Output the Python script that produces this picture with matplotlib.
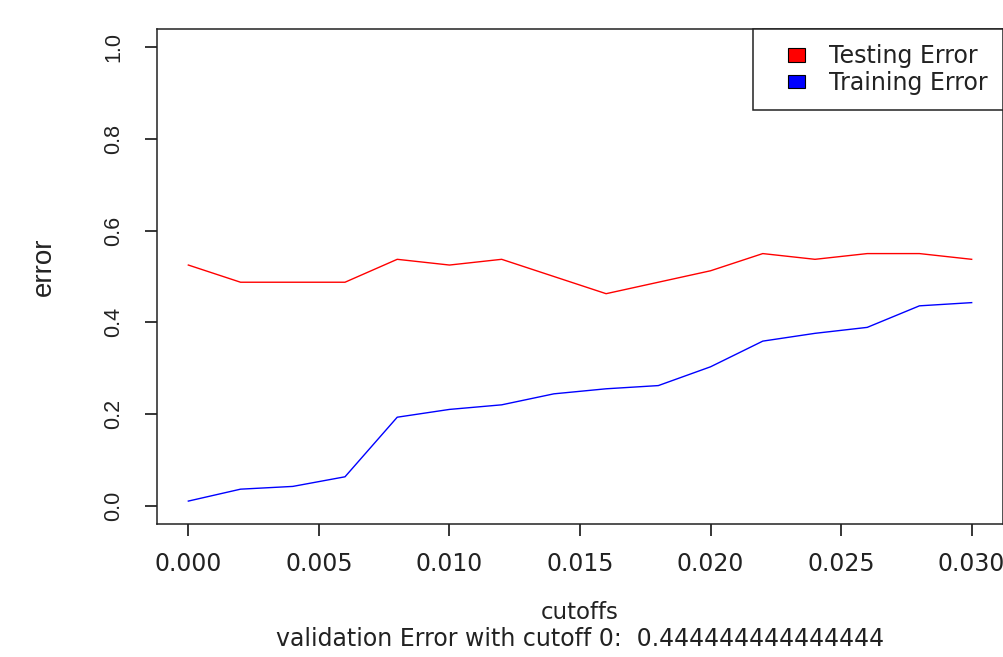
import matplotlib
matplotlib.use('Agg')
import matplotlib.pyplot as plt
from matplotlib.patches import Patch, Rectangle
from matplotlib.legend_handler import HandlerPatch

# values
cutoffs = [0.000, 0.002, 0.004, 0.006, 0.008, 0.010, 0.012, 0.014,
           0.016, 0.018, 0.020, 0.022, 0.024, 0.026, 0.028, 0.030]
testing_error = [0.525, 0.4875, 0.4875, 0.4875, 0.5375, 0.525, 0.5375, 0.500,
                 0.4625, 0.4875, 0.5125, 0.550, 0.5375, 0.550, 0.550, 0.5375]
training_error = [0.010, 0.036, 0.042, 0.063, 0.193, 0.210, 0.220, 0.244,
                  0.255, 0.262, 0.303, 0.359, 0.376, 0.389, 0.436, 0.443]
validation_error = 4 / 9
x_ticks = [0.000, 0.005, 0.010, 0.015, 0.020, 0.025, 0.030]
y_ticks = [0.0, 0.2, 0.4, 0.6, 0.8, 1.0]

W, H = 1004, 657
fig = plt.figure(figsize=(W / 100, H / 100), dpi=100)
ax = fig.add_axes([157 / W, 1 - 524 / H, (1003 - 157) / W, (524 - 29) / H])

ax.plot(cutoffs, testing_error, color='red', lw=1.0)
ax.plot(cutoffs, training_error, color='blue', lw=1.0)

ax.set_xlim(-0.0012, 0.0312)
ax.set_ylim(-0.04, 1.04)

ax.set_xticks(x_ticks)
ax.set_xticklabels(['{:.3f}'.format(v) for v in x_ticks],
                   fontsize=17, family='DejaVu Sans', color='#222222')
ax.set_yticks(y_ticks)
ax.set_yticklabels(['{:.1f}'.format(v) for v in y_ticks],
                   fontsize=15.5, family='Liberation Sans', color='#222222',
                   rotation=90, va='center')
ax.tick_params(axis='x', direction='out', length=8.6, width=1.1, pad=11.5)
ax.tick_params(axis='y', direction='out', length=8.6, width=1.1, pad=15)
for sp in ax.spines.values():
    sp.set_linewidth(1.1)
    sp.set_color('#222222')

# axis titles, placed like R does it
fig.text(44 / W, 1 - 267 / H, 'error', rotation=90, ha='center', va='center',
         fontsize=20, family='Liberation Sans', color='#222222')
fig.text(580 / W, 1 - 619 / H, 'cutoffs', ha='center', va='baseline',
         fontsize=16.5, family='DejaVu Sans', color='#222222')
fig.text(580 / W, 1 - 646 / H,
         'validation Error with cutoff 0:  {:.15g}'.format(validation_error),
         ha='center', va='baseline', fontsize=17, family='DejaVu Sans',
         color='#222222')


def square_handle(legend, orig_handle, xdescent, ydescent, width, height, fontsize):
    # small filled square at the right end of the handle box
    w = 0.75 * fontsize
    return Rectangle((width - w - xdescent, -ydescent), w, height)


handles = [Patch(facecolor='red', edgecolor='black', lw=0.8),
           Patch(facecolor='blue', edgecolor='black', lw=0.8)]
leg = ax.legend(handles, ['Testing Error', 'Training Error'], loc='upper right',
                borderaxespad=0, fancybox=False, edgecolor='#222222',
                framealpha=1, borderpad=0.65, labelspacing=0.1,
                handlelength=1.55, handleheight=0.5, handletextpad=1.0,
                prop={'family': 'DejaVu Sans', 'size': 17},
                handler_map={Patch: HandlerPatch(patch_func=square_handle)})
leg.get_frame().set_linewidth(1.1)
for t in leg.get_texts():
    t.set_color('#222222')

fig.savefig('out.png', dpi=100)
